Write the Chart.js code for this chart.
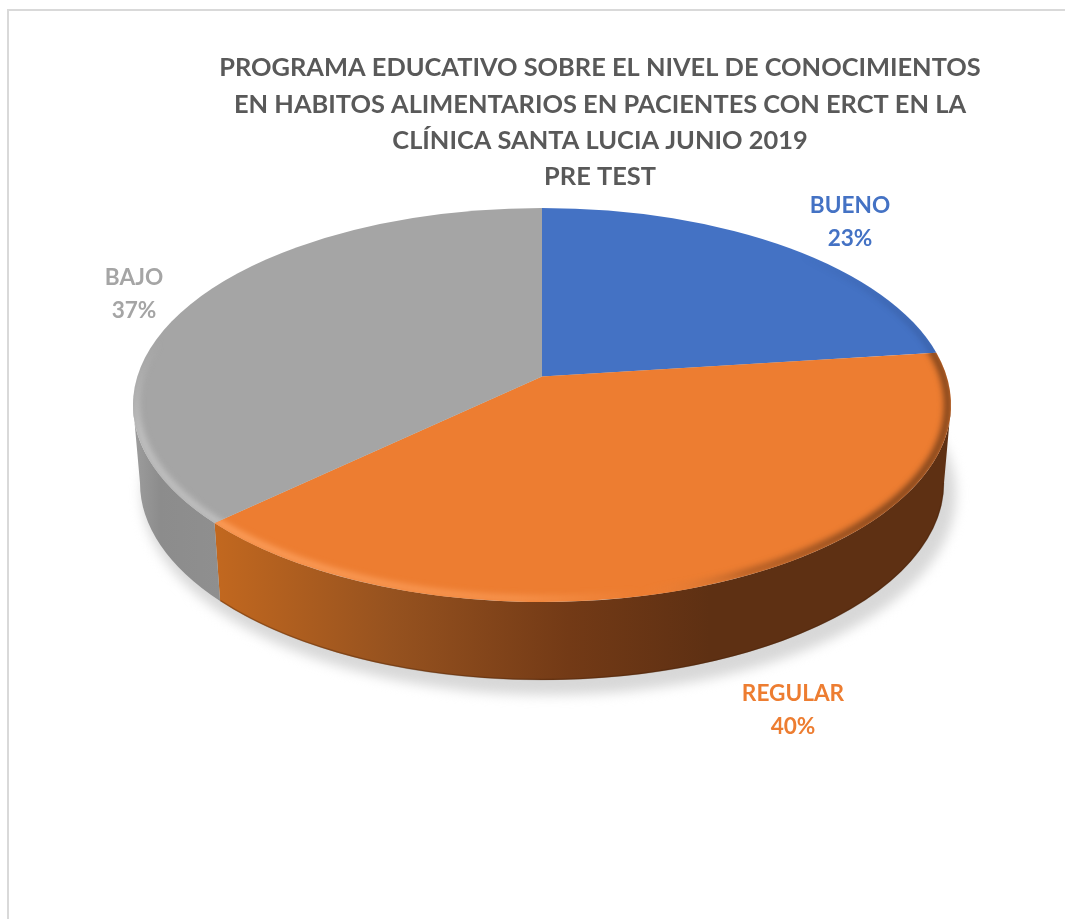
<!DOCTYPE html>
<html>
<head>
<meta charset="utf-8">
<script src="https://cdn.jsdelivr.net/npm/chart.js@4"></script>
<style>
  html, body { margin: 0; padding: 0; background: #fff; overflow: hidden; }
  #frame { position: absolute; left: 7px; top: 9px; right: 0; bottom: 0; border-left: 2px solid #d9d9d9; border-top: 2px solid #d9d9d9; }
  #chart1 { position: absolute; left: 0; top: 0; }
</style>
</head>
<body>
<div id="frame"></div>
<canvas id="chart1" width="1065" height="919"></canvas>
<script>
const categories = ["BUENO", "REGULAR", "BAJO"];
const values = [23, 40, 37];
const sliceColors = ["#4472c4", "#ed7d31", "#a5a5a5"];
const titleLines = [
  "PROGRAMA EDUCATIVO SOBRE EL NIVEL DE CONOCIMIENTOS",
  "EN HABITOS ALIMENTARIOS EN PACIENTES CON ERCT EN LA",
  "CLÍNICA SANTA LUCIA JUNIO 2019",
  "PRE TEST",
];

// where the pie sits on the page, top face and bottom face of the disc
const top3d = { x: 542, y: 405, rx: 409, ry: 197 };
const bottom3d = { x: 542, y: 483, rx: 402, ry: 197 };
const tilt = -0.145; // moves the apex up from the middle of the ellipse
const labelSpots = [[850, 206], [793, 694], [134, 278]];

// perspective: angle on the flat pie -> point on the top ellipse
function rimAngle(a) {
  const u = Math.cos(a), v = Math.sin(a);
  const d = 1 + tilt * v;
  return Math.atan2((v + tilt) / d, (u * Math.sqrt(1 - tilt * tilt)) / d);
}

function wedge(ctx, a0, a1) {
  const f0 = rimAngle(a0);
  let f1 = rimAngle(a1);
  while (f1 <= f0) f1 += Math.PI * 2;
  ctx.beginPath();
  ctx.moveTo(top3d.x, top3d.y + tilt * top3d.ry);
  ctx.ellipse(top3d.x, top3d.y, top3d.rx, top3d.ry, 0, f0, f1);
  ctx.closePath();
  return [f0, f1];
}

function sideGradient(ctx, i) {
  const g = ctx.createLinearGradient(215, 0, 720, 0);
  if (i === 1) {
    g.addColorStop(0, "#c2681f");
    g.addColorStop(0.35, "#96521f");
    g.addColorStop(0.7, "#733a16");
    g.addColorStop(0.98, "#5e3013");
    g.addColorStop(1, "#5e3013");
    return g;
  }
  const h = ctx.createLinearGradient(135, 0, 220, 0);
  h.addColorStop(0, "#9c9c9c");
  h.addColorStop(0.3, "#8c8c8c");
  h.addColorStop(1, "#8f8f8f");
  return h;
}

function rimGradient(ctx, i) {
  if (i === 1) {
    const g = ctx.createLinearGradient(215, 0, 950, 0);
    g.addColorStop(0, "rgba(255,165,100,0.9)");
    g.addColorStop(0.4, "rgba(255,165,100,0.6)");
    g.addColorStop(0.58, "rgba(255,165,100,0)");
    g.addColorStop(0.72, "rgba(95,50,20,0.4)");
    g.addColorStop(0.9, "rgba(90,48,20,0.8)");
    g.addColorStop(1, "rgba(90,48,20,0.8)");
    return g;
  }
  if (i === 2) {
    const g = ctx.createLinearGradient(0, 340, 0, 430);
    g.addColorStop(0, "rgba(200,200,200,0)");
    g.addColorStop(1, "rgba(205,205,205,0.75)");
    return g;
  }
  const g = ctx.createLinearGradient(800, 0, 940, 0);
  g.addColorStop(0, "rgba(30,50,90,0)");
  g.addColorStop(1, "rgba(30,50,90,0.5)");
  return g;
}

const pie3d = {
  id: "pie3d",
  beforeDatasetsDraw(chart) {
    const ctx = chart.ctx;
    const arcs = chart.getDatasetMeta(0).data;

    // soft shadow on the page
    ctx.save();
    ctx.filter = "blur(6px)";
    ctx.fillStyle = "#d8d8d8";
    ctx.beginPath();
    ctx.ellipse(549, 494, 407, 201, 0, 0, Math.PI * 2);
    ctx.fill();
    ctx.restore();

    // side wall, only the front half shows
    arcs.forEach((arc, i) => {
      const f0 = rimAngle(arc.startAngle);
      let f1 = rimAngle(arc.endAngle);
      while (f1 <= f0) f1 += Math.PI * 2;
      const from = Math.max(f0, 0), to = Math.min(f1, Math.PI);
      if (to <= from) return;
      ctx.beginPath();
      ctx.ellipse(top3d.x, top3d.y, top3d.rx, top3d.ry, 0, from, to);
      ctx.ellipse(bottom3d.x, bottom3d.y, bottom3d.rx, bottom3d.ry, 0, to, from, true);
      ctx.closePath();
      ctx.fillStyle = sideGradient(ctx, i);
      ctx.fill();
      if (i === 1) {
        ctx.beginPath();
        ctx.ellipse(bottom3d.x, bottom3d.y, bottom3d.rx - 0.5, bottom3d.ry - 0.5, 0, from, to);
        ctx.strokeStyle = "rgba(70,35,12,0.35)";
        ctx.lineWidth = 1.5;
        ctx.stroke();
      }
    });

    // top face
    arcs.forEach((arc, i) => {
      wedge(ctx, arc.startAngle, arc.endAngle);
      ctx.fillStyle = sliceColors[i];
      ctx.fill();

      ctx.save();
      wedge(ctx, arc.startAngle, arc.endAngle);
      ctx.clip();
      ctx.filter = "blur(3px)";
      ctx.strokeStyle = rimGradient(ctx, i);
      ctx.lineWidth = i === 0 ? 3 : 7;
      ctx.beginPath();
      ctx.ellipse(top3d.x, top3d.y, top3d.rx - 3, top3d.ry - 3, 0, 0, Math.PI * 2);
      ctx.stroke();
      ctx.restore();
    });
    return false;
  },
  afterDraw(chart) {
    const ctx = chart.ctx;
    ctx.save();
    ctx.font = "bold 22.6px Lato";
    ctx.textAlign = "center";
    ctx.textBaseline = "middle";
    categories.forEach((name, i) => {
      const spot = labelSpots[i];
      ctx.fillStyle = sliceColors[i];
      ctx.fillText(name, spot[0], spot[1]);
      ctx.fillText(values[i] + "%", spot[0], spot[1] + 33);
    });
    ctx.restore();
  },
};

new Chart(document.getElementById("chart1"), {
  type: "pie",
  data: {
    labels: categories,
    datasets: [{ data: values, backgroundColor: sliceColors, borderWidth: 0 }],
  },
  options: {
    responsive: false,
    animation: false,
    layout: { padding: { left: 135, top: 50 } },
    plugins: {
      legend: { display: false },
      tooltip: { enabled: false },
      title: {
        display: true,
        text: titleLines,
        color: "#595959",
        font: { family: "Lato", size: 25.4, weight: "bold", lineHeight: 1.43 },
        padding: 0,
      },
    },
  },
  plugins: [pie3d],
});
</script>
</body>
</html>
